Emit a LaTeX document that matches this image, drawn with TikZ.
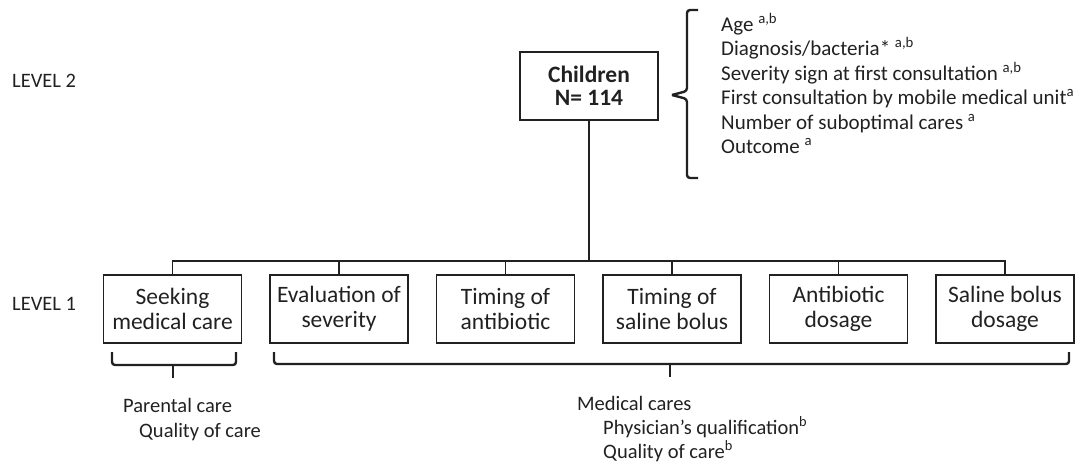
\documentclass[tikz,border=0pt]{standalone}
\usepackage{fontspec}
\setmainfont{Carlito}
\definecolor{ink}{rgb}{0.13,0.13,0.13}
\begin{document}
\begin{tikzpicture}[x=1pt,y=-1pt,
  box/.style={draw=ink,line width=1.3pt,minimum width=138pt,minimum height=68pt,inner sep=0pt,align=center,text=ink,font=\fontsize{23.5}{25}\selectfont},
  lbl/.style={anchor=base west,inner sep=0pt,text=ink,font=\fontsize{21}{24}\selectfont},
  blbl/.style={anchor=base west,inner sep=0pt,text=ink,font=\fontsize{20.5}{24}\selectfont},
  conn/.style={draw=ink,line width=1.3pt},
  bracepath/.style={draw=ink,line width=2.4pt,rounded corners=3pt}]
\useasboundingbox (0,0) rectangle (1079,467);

% level labels
\node[lbl,font=\fontsize{20.5}{24}\selectfont] (lv2) at (12,87) {LEVEL 2};
\node[lbl,font=\fontsize{20.5}{24}\selectfont] (lv1) at (12,310) {LEVEL 1};

% level 2 box
\node[box,font=\bfseries\fontsize{23.5}{23}\selectfont] (ch) at (589,86) {Children\\N= 114};

% level 1 boxes
\node[box] (b1) at (172.5,309) {Seeking\\medical care};
\node[box] (b2) at (339,309) {Evaluation of\\severity};
\node[box] (b3) at (505.5,309) {Timing of\\antibiotic};
\node[box] (b4) at (672,309) {Timing of\\saline bolus};
\node[box] (b5) at (838.5,309) {Antibiotic\\dosage};
\node[box] (b6) at (1005,309) {Saline bolus\\dosage};

% tree connectors
\coordinate (bus) at (0,261);
\draw[conn] (b1.north) |- (b6.north |- bus) -- (b6.north);
\draw[conn] (ch.south) -- (ch.south |- bus);
\foreach \b in {b2,b3,b4,b5} \draw[conn] (\b.north) -- (\b.north |- bus);

% right brace list
\draw[bracepath] (698,10) -- (687,10) -- (687,91) -- (672,95);
\draw[bracepath] (672,95) -- (687,99) -- (687,178) -- (698,178);
\node[lbl] (t1) at (721,31) {Age \textsuperscript{a,b}};
\node[lbl] (t2) at (721,55.5) {Diagnosis/bacteria* \textsuperscript{a,b}};
\node[lbl] (t3) at (721,80) {Severity sign at first consultation \textsuperscript{a,b}};
\node[lbl] (t4) at (721,104.5) {First consultation by mobile medical unit\textsuperscript{a}};
\node[lbl] (t5) at (721,129) {Number of suboptimal cares \textsuperscript{a}};
\node[lbl] (t6) at (721,153.5) {Outcome \textsuperscript{a}};

% bottom braces
\draw[bracepath] (112,352) -- (112,365) -- (236,365) -- (236,352);
\draw[line width=2.4pt,draw=ink] (173,365) -- (173,378);
\draw[bracepath] (274,352) -- (274,364) -- (1069,364) -- (1069,352);
\draw[line width=2.4pt,draw=ink] (670,364) -- (670,377);

% bottom texts
\node[blbl] (p1) at (123,412) {Parental care};
\node[blbl] (p2) at (139,437) {Quality of care};
\node[blbl] (m1) at (577,410) {Medical cares};
\node[blbl] (m2) at (603,434) {Physician’s qualification\textsuperscript{b}};
\node[blbl] (m3) at (603,458) {Quality of care\textsuperscript{b}};
\end{tikzpicture}
\end{document}
